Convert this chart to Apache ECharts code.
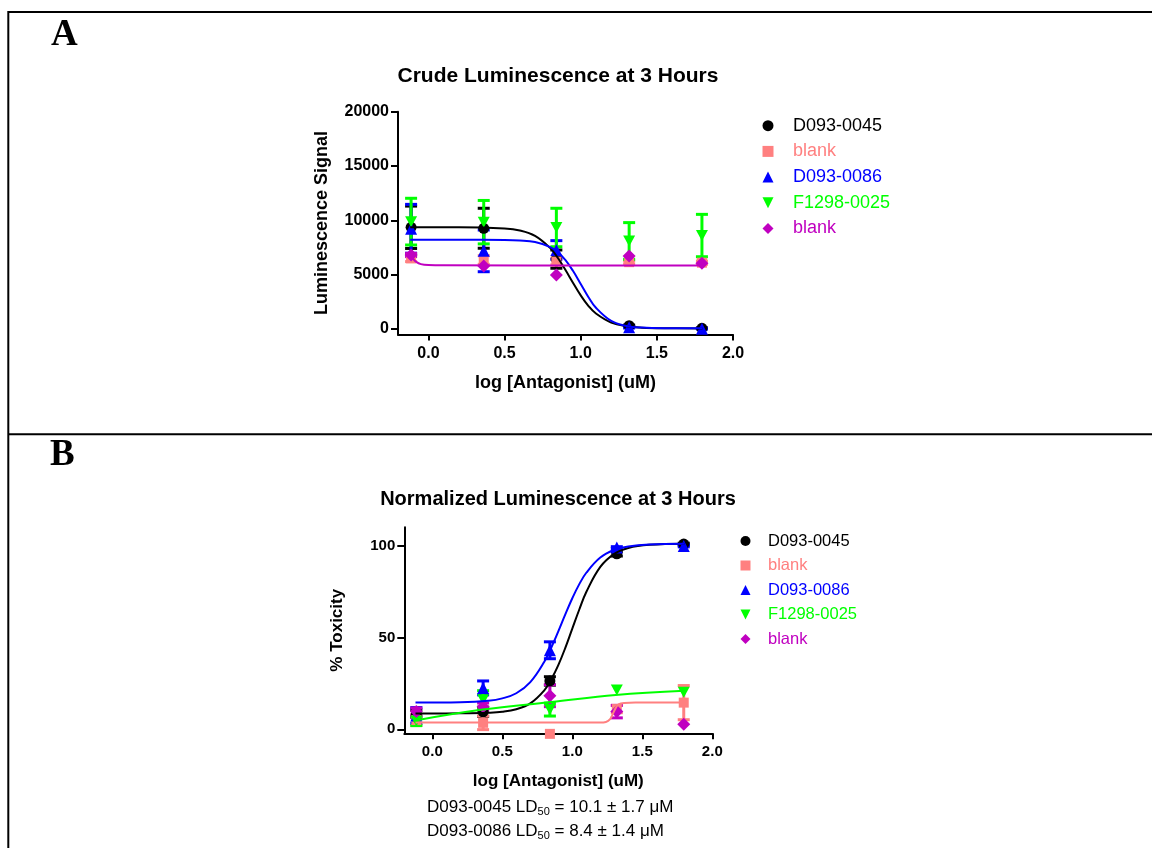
<!DOCTYPE html>
<html>
<head>
<meta charset="utf-8">
<script src="https://cdn.jsdelivr.net/npm/echarts@6/dist/echarts.min.js"></script>
<style>
  html, body { margin: 0; padding: 0; background: #fff; }
  #chart { width: 1152px; height: 848px; }
</style>
</head>
<body>
<div id="chart"></div>
<script>
// log concentrations (uM), shared by both panels
const logConc = [-0.114, 0.363, 0.840, 1.318, 1.796];

// Panel A - crude luminescence (mean, SEM)
const aBlackMean = [9360, 9270, 6430, 300, 60];
const aBlackErr = [1950, 1840, 840, 60, 40];
const aPinkMean = [6500, 6350, 6200, 6150, 6100];
const aPinkErr = [300, 400, 300, 150, 150];
const aBlueMean = [9220, 7190, 7270, 150, 30];
const aBlueErr = [2250, 1920, 860, 60, 30];
const aGreenMean = [9880, 9830, 9340, 8100, 8600];
const aGreenErr = [2150, 2000, 1770, 1690, 1950];
const aMagentaMean = [6810, 5800, 4970, 6720, 6050];
const aMagentaErr = [150, 0, 0, 0, 0];

// Panel A - fitted curves
const aFitX = [-0.12, 0.2, 0.5, 0.6, 0.7, 0.8, 0.85, 0.9, 0.95, 1.0, 1.05, 1.1, 1.2, 1.3, 1.4, 1.55, 1.8];
const aBlackFit = [9360, 9360, 9250, 9070, 8570, 7440, 6530, 5420, 4230, 3090, 2130, 1420, 590, 250, 120, 65, 50];
const aBlueFit = [8220, 8220, 8200, 8150, 8000, 7540, 7060, 6330, 5330, 4140, 2950, 1950, 740, 280, 130, 70, 60];
const aMagentaFitX = [-0.12, -0.1, -0.08, -0.05, 0, 0.1, 1.8];
const aMagentaFit = [6900, 6450, 6170, 5970, 5880, 5855, 5850];

// Panel B - normalized % toxicity (mean, SEM)
const bBlackMean = [8.5, 9.5, 26.3, 95.5, 100.8];
const bBlackErr = [2, 2.5, 2.3, 1.2, 0.5];
const bPinkMean = [5, 3.5, -2.5, 11, 14.5];
const bPinkErr = [3, 3.7, 0, 2, 9.3];
const bBlueMean = [7.5, 22.5, 43, 98.9, 99.8];
const bBlueErr = [4.3, 3.8, 4.6, 0.5, 0.5];
const bGreenMean = [4.5, 16, 10.7, 21.4, 20.1];
const bGreenErr = [2.5, 5, 3.5, 0, 0];
const bMagentaMean = [9.6, 12.3, 18.3, 9.6, 2.7];
const bMagentaErr = [2, 2, 6, 3.4, 0];

// Panel B - fitted curves
const bFitX = [-0.12, 0.2, 0.4, 0.5, 0.6, 0.7, 0.8, 0.85, 0.9, 0.95, 1.0, 1.05, 1.1, 1.2, 1.3, 1.4, 1.55, 1.8];
const bBlackFit = [8.6, 8.7, 9.0, 9.5, 10.9, 14.1, 21.2, 27.2, 34.9, 44.3, 54.8, 65.2, 74.7, 88.4, 95.5, 98.7, 100.4, 101];
const bBlueFit = [14.5, 14.7, 15.5, 16.8, 19.6, 25.7, 36.8, 44.5, 53.3, 62.5, 71.3, 79.0, 85.2, 93.5, 97.6, 99.5, 100.6, 101];
const bGreenFitX = [-0.12, 0.36, 0.85, 1.31, 1.8];
const bGreenFit = [4.8, 10.7, 14.8, 18.7, 20.9];
const bPinkFitX = [-0.12, 1.2, 1.24, 1.27, 1.29, 1.31, 1.33, 1.37, 1.45, 1.8];
const bPinkFit = [3.7, 3.7, 4.0, 5.5, 8.5, 11.5, 13.5, 14.3, 14.5, 14.5];

// tick labels
const aYTicks = [0, 5000, 10000, 15000, 20000];
const bYTicks = [0, 50, 100];
const xTicks = [0, 0.5, 1.0, 1.5, 2.0];

const SANS = "'Liberation Sans', Arial, sans-serif";
const SERIF = "'Liberation Serif', 'Times New Roman', serif";
const BLACK = '#000000', PINK = '#ff8080', BLUE = '#0000ff', GREEN = '#00ff00', MAGENTA = '#c000c0';
const INV_TRI = 'path://M0,0L10,0L5,10Z';
// legend icons as paths so they keep their aspect
const ICON_CIRCLE = 'path://M5,0A5,5,0,1,1,5,10A5,5,0,1,1,5,0Z';
const ICON_RECT = 'path://M0,0L10,0L10,10L0,10Z';
const ICON_TRI = 'path://M5,0L10,10L0,10Z';
const ICON_DIAMOND = 'path://M5,0L10,5L5,10L0,5Z';

function errRender(params, api) {
  const x = api.value(0), lo = api.value(1), hi = api.value(2);
  if (hi === lo) return;
  const top = api.coord([x, hi]), bot = api.coord([x, lo]);
  const st = { stroke: api.visual('color'), lineWidth: 3 };
  const h = 6;
  return {
    type: 'group',
    children: [
      { type: 'line', shape: { x1: top[0], y1: top[1], x2: bot[0], y2: bot[1] }, style: st },
      { type: 'line', shape: { x1: top[0] - h, y1: top[1], x2: top[0] + h, y2: top[1] }, style: st },
      { type: 'line', shape: { x1: bot[0] - h, y1: bot[1], x2: bot[0] + h, y2: bot[1] }, style: st }
    ]
  };
}

// one data set: error bars + points + (optional) fit curve
function dataSet(idx, name, color, symbol, size, means, errs, fitX, fitY) {
  const out = [];
  out.push({
    type: 'custom', name: name + '-err', xAxisIndex: idx, yAxisIndex: idx,
    itemStyle: { color: color }, renderItem: errRender, silent: true,
    encode: { x: 0, y: [1, 2] },
    data: logConc.map((x, i) => [x, means[i] - errs[i], means[i] + errs[i]])
  });
  out.push({
    type: 'scatter', name: name, xAxisIndex: idx, yAxisIndex: idx,
    symbol: symbol, symbolSize: size, clip: false,
    itemStyle: { color: color, opacity: 1 },
    data: logConc.map((x, i) => [x, means[i]])
  });
  if (fitX) {
    out.push({
      type: 'line', name: name + '-fit', xAxisIndex: idx, yAxisIndex: idx,
      showSymbol: false, symbol: 'none', smooth: 0.4, silent: true,
      lineStyle: { color: color, width: 2 },
      data: fitX.map((x, i) => [x, fitY[i]])
    });
  }
  return out;
}

const series = [].concat(
  dataSet(0, 'D093-0045', BLACK, 'circle', 11, aBlackMean, aBlackErr, aFitX, aBlackFit),
  dataSet(0, 'blank', PINK, 'rect', 10, aPinkMean, aPinkErr),
  dataSet(0, 'D093-0086', BLUE, 'triangle', 12, aBlueMean, aBlueErr, aFitX, aBlueFit),
  dataSet(0, 'F1298-0025', GREEN, INV_TRI, [12, 11], aGreenMean, aGreenErr),
  dataSet(0, 'blank*', MAGENTA, 'diamond', 13, aMagentaMean, aMagentaErr, aMagentaFitX, aMagentaFit),
  dataSet(1, 'D093-0045', BLACK, 'circle', 11, bBlackMean, bBlackErr, bFitX, bBlackFit),
  dataSet(1, 'blank', PINK, 'rect', 10, bPinkMean, bPinkErr, bPinkFitX, bPinkFit),
  dataSet(1, 'D093-0086', BLUE, 'triangle', 12, bBlueMean, bBlueErr, bFitX, bBlueFit),
  dataSet(1, 'F1298-0025', GREEN, INV_TRI, [12, 11], bGreenMean, bGreenErr, bGreenFitX, bGreenFit),
  dataSet(1, 'blank*', MAGENTA, 'diamond', 13, bMagentaMean, bMagentaErr)
);

function legendData() {
  return [
    { name: 'D093-0045', icon: ICON_CIRCLE, textStyle: { color: BLACK } },
    { name: 'blank', icon: ICON_RECT, textStyle: { color: PINK } },
    { name: 'D093-0086', icon: ICON_TRI, textStyle: { color: BLUE } },
    { name: 'F1298-0025', icon: INV_TRI, textStyle: { color: GREEN } },
    { name: 'blank*', icon: ICON_DIAMOND, textStyle: { color: MAGENTA } }
  ];
}

function xAxis(idx, fs) {
  return {
    type: 'value', gridIndex: idx, min: -0.2, max: 2.0,
    name: 'log [Antagonist] (uM)', nameLocation: 'middle', nameGap: 40,
    nameTextStyle: { fontSize: fs + 2, fontWeight: 'bold', fontFamily: SANS, color: '#000' },
    splitLine: { show: false },
    axisLine: { onZero: false, lineStyle: { color: '#000', width: 2 } },
    axisTick: { length: 6, lineStyle: { color: '#000', width: 2 }, customValues: xTicks },
    axisLabel: {
      customValues: xTicks, margin: 11, color: '#000', fontSize: fs, fontWeight: 'bold', fontFamily: SANS,
      formatter: v => v.toFixed(1)
    }
  };
}

function yAxis(idx, min, max, ticks, name, fs, nameFs, gap) {
  return {
    type: 'value', gridIndex: idx, min: min, max: max,
    name: name, nameLocation: 'middle', nameGap: gap,
    nameTextStyle: { fontSize: nameFs, fontWeight: 'bold', fontFamily: SANS, color: '#000' },
    splitLine: { show: false },
    axisLine: { show: true, onZero: false, lineStyle: { color: '#000', width: 2 } },
    axisTick: { show: true, length: 7, lineStyle: { color: '#000', width: 2 }, customValues: ticks },
    axisLabel: {
      customValues: ticks, margin: 9, color: '#000', fontSize: fs, fontWeight: 'bold', fontFamily: SANS,
      formatter: v => String(v)
    }
  };
}

const chart = echarts.init(document.getElementById('chart'));
chart.setOption({
  animation: false,
  backgroundColor: '#fff',
  title: [
    { text: 'Crude Luminescence at 3 Hours', left: 558, top: 66, textAlign: 'center', padding: 0,
      textStyle: { fontSize: 21, fontWeight: 'bold', fontFamily: SANS, color: '#000' } },
    { text: 'Normalized Luminescence at 3 Hours', left: 558, top: 489, textAlign: 'center', padding: 0,
      textStyle: { fontSize: 20, fontWeight: 'bold', fontFamily: SANS, color: '#000' } }
  ],
  legend: [
    { data: legendData(), orient: 'vertical', left: 762.5, top: 116.7, padding: 0,
      itemWidth: 40, itemHeight: 11, itemGap: 7.7, selectedMode: false,
      formatter: n => n.replace('*', ''),
      textStyle: { fontSize: 18, fontFamily: SANS } },
    { data: legendData(), orient: 'vertical', left: 740.5, top: 532.5, padding: 0,
      itemWidth: 35, itemHeight: 10, itemGap: 7.5, selectedMode: false,
      formatter: n => n.replace('*', ''),
      textStyle: { fontSize: 16.5, fontFamily: SANS } }
  ],
  grid: [
    { left: 398, top: 111.7, width: 335, height: 222.7 },
    { left: 404.3, top: 527.2, width: 308, height: 206.1 }
  ],
  xAxis: [xAxis(0, 16), xAxis(1, 15)],
  yAxis: [
    yAxis(0, -500, 20000, aYTicks, 'Luminescence Signal', 16, 18, 67),
    yAxis(1, -2.2, 110, bYTicks, '% Toxicity', 15, 17, 58)
  ],
  series: series,
  graphic: [
    { type: 'line', shape: { x1: 8, y1: 12, x2: 1152, y2: 12 }, style: { stroke: '#000', lineWidth: 2 } },
    { type: 'line', shape: { x1: 8.3, y1: 11, x2: 8.3, y2: 848 }, style: { stroke: '#000', lineWidth: 2 } },
    { type: 'line', shape: { x1: 8, y1: 434.3, x2: 1152, y2: 434.3 }, style: { stroke: '#000', lineWidth: 2 } },
    { type: 'text', x: 51, y: 35, style: { text: 'A', font: 'bold 37px ' + SERIF, fill: '#000', verticalAlign: 'middle' } },
    { type: 'text', x: 50, y: 455.5, style: { text: 'B', font: 'bold 37px ' + SERIF, fill: '#000', verticalAlign: 'middle' } },
    { type: 'text', x: 427, y: 807.3, style: {
        text: 'D093-0045 LD{sub|50} = 10.1 ± 1.7 μM', fontSize: 17, fontFamily: SANS, fill: '#000',
        lineHeight: 20, verticalAlign: 'middle',
        rich: { sub: { fontSize: 11, lineHeight: 9, verticalAlign: 'bottom', fontFamily: SANS } } } },
    { type: 'text', x: 427, y: 831.7, style: {
        text: 'D093-0086 LD{sub|50} = 8.4 ± 1.4 μM', fontSize: 17, fontFamily: SANS, fill: '#000',
        lineHeight: 20, verticalAlign: 'middle',
        rich: { sub: { fontSize: 11, lineHeight: 9, verticalAlign: 'bottom', fontFamily: SANS } } } }
  ]
});
</script>
</body>
</html>
